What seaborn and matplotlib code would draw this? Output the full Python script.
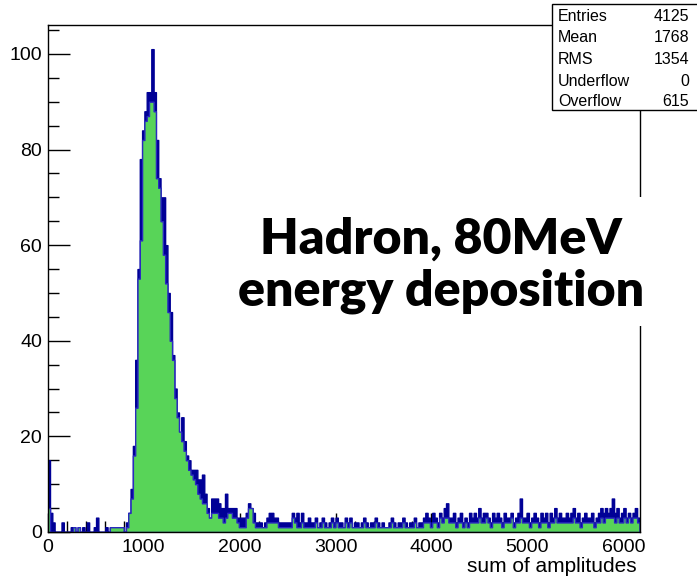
import numpy as np
import pandas as pd
import matplotlib
matplotlib.use("Agg")
import matplotlib.pyplot as plt
import seaborn as sns
from matplotlib.patches import Rectangle

# ---------------- data ----------------
BIN_WIDTH = 24
navy_counts = [
    15, 4, 2, 0, 0, 0, 2, 0, 0, 0,
    1, 1, 0, 1, 0, 1, 0, 2, 0, 0,
    1, 3, 0, 0, 0, 1, 0, 1, 1, 1,
    1, 1, 1, 0, 2, 4, 9, 18, 36, 55,
    78, 84, 88, 92, 92, 101, 92, 82, 74, 70,
    70, 60, 50, 46, 37, 30, 25, 18, 24, 19,
    16, 15, 13, 13, 13, 11, 11, 12, 8, 5,
    3, 7, 7, 7, 6, 5, 5, 8, 5, 5,
    5, 5, 3, 3, 3, 3, 4, 6, 5, 4,
    2, 2, 2, 1, 2, 3, 4, 4, 3, 3,
    2, 2, 2, 2, 2, 2, 4, 3, 4, 2,
    4, 2, 2, 3, 2, 2, 3, 1, 2, 3,
    2, 1, 2, 3, 2, 3, 2, 2, 1, 3,
    2, 3, 1, 2, 2, 1, 2, 3, 2, 1,
    2, 2, 3, 2, 1, 2, 1, 1, 2, 3,
    2, 1, 2, 2, 3, 2, 1, 2, 2, 3,
    1, 2, 2, 3, 4, 3, 2, 4, 3, 2,
    4, 3, 5, 6, 3, 3, 4, 2, 3, 4,
    2, 3, 2, 4, 3, 4, 3, 5, 3, 4,
    4, 3, 2, 4, 3, 4, 3, 2, 4, 3,
    3, 4, 2, 3, 4, 7, 3, 3, 4, 2,
    3, 4, 3, 2, 4, 3, 4, 2, 4, 3,
    5, 3, 4, 3, 3, 4, 3, 4, 5, 3,
    4, 2, 3, 4, 3, 3, 4, 2, 3, 4,
    5, 4, 5, 4, 5, 7, 4, 5, 3, 4,
    5, 3, 4, 3, 4, 5, 3,
]
green_counts = [
    5, 0, 0, 0, 0, 0, 0, 0, 0, 0,
    0, 1, 0, 1, 0, 0, 0, 0, 0, 0,
    0, 0, 0, 0, 0, 0, 0, 1, 1, 1,
    1, 1, 1, 0, 1, 4, 7, 16, 26, 53,
    61, 82, 86, 87, 90, 90, 88, 74, 72, 65,
    58, 52, 46, 40, 36, 28, 24, 21, 19, 17,
    15, 13, 12, 11, 10, 8, 7, 6, 6, 4,
    3, 4, 4, 4, 3, 3, 2, 3, 4, 4,
    3, 3, 2, 1, 1, 1, 3, 5, 5, 2,
    1, 1, 1, 1, 1, 2, 2, 2, 2, 2,
    1, 1, 1, 1, 1, 1, 3, 2, 1, 1,
    2, 1, 1, 1, 1, 1, 2, 1, 1, 2,
    1, 1, 1, 2, 1, 2, 1, 1, 1, 2,
    1, 2, 1, 1, 1, 1, 1, 2, 1, 1,
    1, 1, 2, 1, 1, 1, 1, 1, 1, 2,
    1, 1, 1, 1, 2, 1, 1, 1, 1, 2,
    1, 1, 1, 2, 2, 2, 1, 2, 2, 1,
    3, 2, 3, 3, 2, 2, 2, 1, 2, 2,
    1, 2, 1, 2, 2, 2, 2, 3, 2, 2,
    3, 2, 1, 2, 2, 2, 2, 1, 2, 2,
    2, 3, 1, 2, 2, 3, 2, 2, 2, 1,
    2, 2, 2, 1, 2, 2, 2, 1, 2, 2,
    3, 2, 2, 2, 2, 2, 2, 2, 3, 2,
    2, 1, 2, 2, 2, 2, 2, 1, 2, 2,
    3, 2, 3, 3, 3, 3, 2, 3, 2, 2,
    3, 2, 3, 2, 3, 3, 2,
]
x_ticks = [0, 1000, 2000, 3000, 4000, 5000, 6000]
y_ticks = [0, 20, 40, 60, 80, 100]
stats_labels = ["Entries", "Mean", "RMS", "Underflow", "Overflow"]
stats_values = ["4125", "1768", "1354", "0", "615"]
x_label = "sum of amplitudes"
note_lines = ["Hadron, 80MeV", "energy deposition"]

# ---------------- build table ----------------
n_bins = len(navy_counts)
centers = np.arange(n_bins) * BIN_WIDTH + BIN_WIDTH / 2
df = pd.DataFrame({"x": centers, "navy": navy_counts, "green": green_counts})
bin_range = (0, n_bins * BIN_WIDTH)

NAVY = "#000096"
GREEN = "#58d458"
EDGE = "#2a2ac0"

sns.set_theme(style="white")
plt.rcParams["font.family"] = ["Liberation Sans", "DejaVu Sans"]
plt.rcParams["text.color"] = "black"

W, H = 697, 581
fig = plt.figure(figsize=(W / 100, H / 100), dpi=100)
fig.patch.set_facecolor("white")

L, R, T, B = 47.7, 640.0, 25.0, 532.0
ax = fig.add_axes([L / W, 1 - B / H, (R - L) / W, (B - T) / H])
ax.set_facecolor("white")

sns.histplot(data=df, x="x", weights="navy", binwidth=BIN_WIDTH,
             binrange=bin_range, element="step", fill=True, color=NAVY,
             alpha=1, linewidth=1.0, ax=ax)
sns.histplot(data=df, x="x", weights="green", binwidth=BIN_WIDTH,
             binrange=bin_range, element="step", fill=True,
             facecolor=GREEN, edgecolor=EDGE, alpha=1, linewidth=1.0, ax=ax)

ax.set_xlim(0, 6174)
ax.set_ylim(0, 106.05)
ax.set_xlabel("")
ax.set_ylabel("")
ax.set_xticks(x_ticks)
ax.set_yticks(y_ticks)
ax.set_xticks(np.arange(0, 6174, 200), minor=True)
ax.set_yticks(np.arange(0, 106, 5), minor=True)
ax.tick_params(axis="both", which="both", direction="in", colors="black",
               labelsize=14, width=1, bottom=True, left=True, top=False,
               right=False)
ax.tick_params(axis="x", which="major", length=14, pad=5)
ax.tick_params(axis="x", which="minor", length=8)
ax.tick_params(axis="y", which="major", length=16, pad=4)
ax.tick_params(axis="y", which="minor", length=8)
for s in ax.spines.values():
    s.set_color("black")
    s.set_linewidth(1.0)
    s.set_visible(True)

fig.text(637 / W, 1 - 566 / H, x_label, ha="right", va="center", fontsize=15)

# stats box
bx0, by0, by1 = 551.5, 4.0, 110.0
fig.patches.append(Rectangle((bx0 / W, 1 - by1 / H), (W + 5 - bx0) / W,
                             (by1 - by0) / H, transform=fig.transFigure,
                             facecolor="white", edgecolor="black",
                             linewidth=1.0, zorder=5))
row_y = [16.7, 37.7, 59.0, 81.0, 101.7]
for lab, val, yy in zip(stats_labels, stats_values, row_y):
    fig.text(558 / W, 1 - yy / H, lab, ha="left", va="center", fontsize=11.5,
             zorder=6)
    fig.text(689 / W, 1 - yy / H, val, ha="right", va="center", fontsize=11.5,
             zorder=6)

# annotation (white box hides the right frame)
fig.patches.append(Rectangle((236 / W, 1 - 326 / H), (646 - 236) / W,
                             (326 - 197) / H, transform=fig.transFigure,
                             facecolor="white", edgecolor="none", zorder=6))
for line, base in zip(note_lines, [254, 306]):
    fig.text(441 / W, 1 - base / H, line, ha="center", va="baseline",
             fontsize=36, fontweight="heavy", color="black",
             family=["Lato", "DejaVu Sans"], zorder=7)

fig.savefig("out.png", dpi=100, facecolor="white")
